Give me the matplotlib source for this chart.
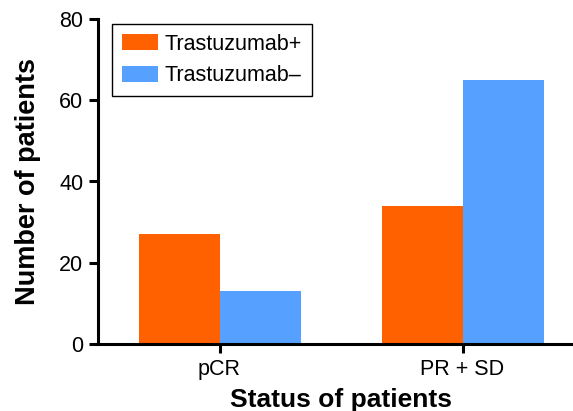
import matplotlib
matplotlib.use('Agg')
from matplotlib import pyplot as plt
import numpy as np

categories = ['pCR', 'PR + SD']
series_names = ['Trastuzumab+', 'Trastuzumab\u2013']
trastuzumab_pos = [27, 34]
trastuzumab_neg = [13, 65]
y_ticks = [0, 20, 40, 60, 80]

plt.rcParams['font.family'] = ['Liberation Sans', 'DejaVu Sans']

fig = plt.figure(figsize=(5.73, 4.11), dpi=100)
ax = fig.add_axes([98 / 573, 67 / 411, 486 / 573, 325 / 411])

x = np.arange(len(categories))
w = 1 / 3
ax.bar(x - w / 2, trastuzumab_pos, w, color='#FF6100', label=series_names[0])
ax.bar(x + w / 2, trastuzumab_neg, w, color='#56A1FF', label=series_names[1])

ax.set_xlim(-0.5, 1.5)
ax.set_ylim(0, 80)
ax.set_yticks(y_ticks)
ax.set_xticks(x)
ax.set_xticklabels(categories)

for side in ['top', 'right']:
    ax.spines[side].set_visible(False)
for side in ['left', 'bottom']:
    ax.spines[side].set_linewidth(2.2)
ax.tick_params(axis='both', width=2.2, length=6.5, labelsize=15.5, direction='out')
ax.tick_params(axis='y', pad=4)
ax.tick_params(axis='x', pad=4)

ax.set_ylabel('Number of patients', fontsize=19.5, fontweight='bold', labelpad=13)
ax.set_xlabel('Status of patients', fontsize=19, fontweight='bold', labelpad=6)

leg = ax.legend(loc='upper left', bbox_to_anchor=(112 / 573, 1 - 24 / 411),
                bbox_transform=fig.transFigure, borderaxespad=0,
                fontsize=15.5, handlelength=1.67, handleheight=0.8,
                handletextpad=0.33, labelspacing=0.5, borderpad=0.45,
                fancybox=False, framealpha=1)
leg.get_frame().set_edgecolor('black')
leg.get_frame().set_linewidth(1.0)

fig.savefig('out.png', dpi=100)
